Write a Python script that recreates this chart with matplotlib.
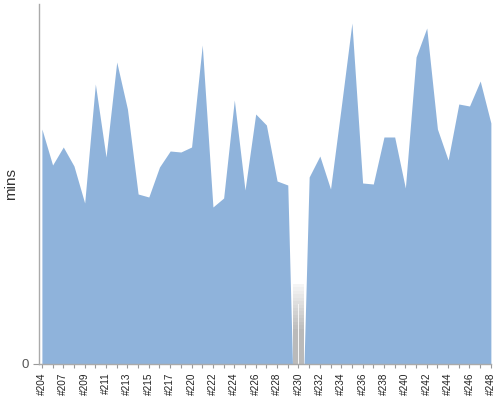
import matplotlib
matplotlib.use("Agg")
import matplotlib.pyplot as plt
import numpy as np

# Build numbers (every build on the x axis)
builds = [204, 206, 207, 208, 209, 210, 211, 212, 213, 214, 215, 216, 217, 219,
          220, 221, 222, 223, 224, 225, 226, 227, 228, 229, 230, 231, 232, 233,
          234, 235, 236, 237, 238, 239, 240, 241, 242, 243, 244, 245, 246, 247, 248]
# Successful build durations (mins)
success = [23.5, 19.9, 21.7, 19.8, 16.1, 28.0, 20.7, 30.2, 25.5, 17.0, 16.7, 19.7,
           21.3, 21.2, 21.7, 31.9, 15.7, 16.6, 26.4, 17.4, 25.0, 23.9, 18.3, 17.9,
           0.0, 18.7, 20.8, 17.5, 25.7, 34.1, 18.1, 18.0, 22.7, 22.7, 17.6, 30.7,
           33.6, 23.5, 20.4, 26.0, 25.8, 28.3, 24.1]
# Aborted build durations (mins)
aborted = [0, 0, 0, 0, 0, 0, 0, 0, 0, 0, 0, 0, 0, 0, 0, 0, 0, 0, 0, 0, 0, 0, 0, 0,
           8.0, 0, 0, 0, 0, 0, 0, 0, 0, 0, 0, 0, 0, 0, 0, 0, 0, 0, 0]

plt.rcParams['font.family'] = ['Liberation Sans', 'DejaVu Sans']

fig = plt.figure(figsize=(5, 4), dpi=100)
ax = fig.add_axes([0.0774, 0.09, 0.905, 0.90])

x = np.arange(len(builds))

# area outline: a build with no successful duration drops within its own slot
xs, ys = [], []
for i, v in enumerate(success):
    if v == 0:
        xs += [i - 0.56, i + 0.52]
        ys += [0, 0]
    else:
        xs.append(i)
        ys.append(v)

ab = np.array(aborted, dtype=float)
mask = ab > 0
# soft vertical gradient for the aborted build
n_steps = 14
for k in range(n_steps):
    frac = 1.0 - k / n_steps * 0.6
    g = 0.96 - (k / (n_steps - 1)) * (0.96 - 0.73)
    ax.bar(x[mask], ab[mask] * frac, width=1.1, color=(g, g, g), linewidth=0, zorder=1)
ax.bar(x[mask], ab[mask] * 0.75, width=0.12, color='#f4f4f4', linewidth=0, zorder=1.5)
ax.fill_between(xs, 0, ys, color='#8fb3db', linewidth=0, zorder=2)

ax.set_xlim(-0.3, len(builds) - 1 + 0.03)
ax.set_ylim(0, 36)

ax.set_xticks(x)
ax.set_xticklabels(['#%d' % b if i % 2 == 0 else '' for i, b in enumerate(builds)],
                   rotation=90, fontsize=7.2, color='#222222')
ax.set_yticks([0])
ax.set_yticklabels(['0'], fontsize=9.5, color='#555555')
ax.tick_params(axis='x', length=3, width=0.8, color='#999999', pad=3)
ax.tick_params(axis='y', length=4, width=0.8, color='#999999', pad=3)
ax.set_ylabel('mins', fontsize=11, color='#333333')
ax.yaxis.set_label_coords(-0.045, 0.5)

for s in ['top', 'right']:
    ax.spines[s].set_visible(False)
for s in ['left', 'bottom']:
    ax.spines[s].set_color('#aaaaaa')
    ax.spines[s].set_linewidth(1.0)

fig.savefig('out.png', dpi=100)
